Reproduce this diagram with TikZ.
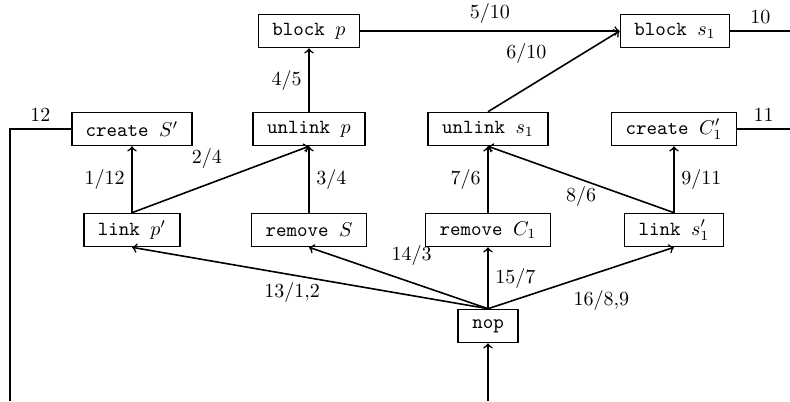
\documentclass[tikz,border=0pt]{standalone}
\begin{document}
\begin{tikzpicture}[x=0.5pt, y=-0.5pt, thick,
  op/.style={draw, inner xsep=7pt, inner ysep=3pt, minimum height=16.5pt, font=\ttfamily}]
\useasboundingbox (0,0) rectangle (790,401);
\node [op] (blockp) at (309,31) {block $p$};
\node [op] (blocks) at (675,31) {block $s_1$};
\node [op] (createS) at (132,129) {create $S'$};
\node [op] (unlinkp) at (309,129) {unlink $p$};
\node [op] (unlinks) at (488,129) {unlink $s_1$};
\node [op] (createC) at (674,129) {create $C_1'$};
\node [op] (linkp) at (132,230) {link $p'$};
\node [op] (removeS) at (309,230) {remove $S$};
\node [op] (removeC) at (488,230) {remove $C_1$};
\node [op] (links) at (674,230) {link $s_1'$};
\node [op] (nop) at (488,326) {nop};
\coordinate (out10) at (790,31);
\coordinate (out11) at (790,129);
\coordinate (ret) at (10,129);
\coordinate (retend) at (10,401);
\coordinate (in) at (488,401);
% top row
\draw [->] (blockp) to node [above] {$5/10$} (blocks);
\draw (blocks) to node [above] {$10$} (out10);
\draw [->] (unlinkp) to node [left] {$4/5$} (blockp);
\draw [->] (unlinks.north) to node [above left] {$6/10$} (blocks.west);
% middle row
\draw (createS) -- node [above] {$12$} (ret) -- (retend);
\draw (createC) to node [above] {$11$} (out11);
\draw [->] (linkp) to node [left] {$1/12$} (createS);
\draw [->] (linkp.north) to node [pos=.55, above left] {$2/4$} (unlinkp.south);
\draw [->] (removeS) to node [right] {$3/4$} (unlinkp);
\draw [->] (removeC) to node [left] {$7/6$} (unlinks);
\draw [->] (links.north) to node [below] {$8/6$} (unlinks.south);
\draw [->] (links) to node [right] {$9/11$} (createC);
% from nop
\draw [->] (nop.north) to node [pos=.55, below] {$13/1{,}2$} (linkp.south);
\draw [->] (nop.north) to node [pos=.58, above right] {$14/3$} (removeS.south);
\draw [->] (nop) to node [right] {$15/7$} (removeC);
\draw [->] (nop.north) to node [pos=.42, below right] {$16/8{,}9$} (links.south);
\draw [->] (in) -- (nop);
\end{tikzpicture}
\end{document}
